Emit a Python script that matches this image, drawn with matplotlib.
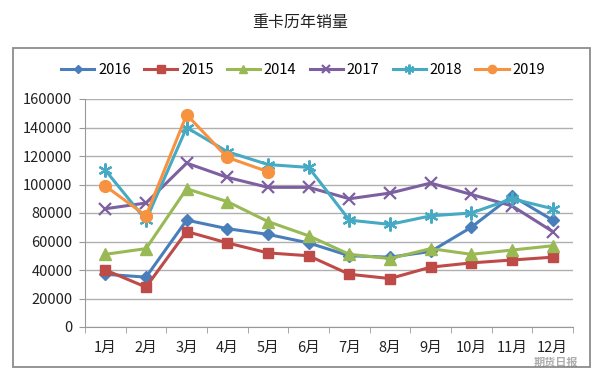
import matplotlib
matplotlib.use("Agg")
import matplotlib.pyplot as plt
from matplotlib.patches import Rectangle

plt.rcParams['font.family'] = ['Noto Sans CJK SC', 'DejaVu Sans']

months = ['1月', '2月', '3月', '4月', '5月', '6月', '7月', '8月', '9月', '10月', '11月', '12月']
s2016 = [37000, 35000, 75000, 69000, 65000, 59000, 50000, 49000, 53000, 70000, 92000, 75000]
s2015 = [40000, 28000, 67000, 59000, 52000, 50000, 37000, 34000, 42000, 45000, 47000, 49000]
s2014 = [51000, 55000, 97000, 88000, 74000, 64000, 51000, 48000, 55000, 51000, 54000, 57000]
s2017 = [83000, 87000, 115000, 105000, 98000, 98000, 90000, 94000, 101000, 93000, 85000, 67000]
s2018 = [110000, 75000, 140000, 123000, 114000, 112000, 75000, 72000, 78000, 80000, 90000, 83000]
s2019 = [99000, 78000, 149000, 119000, 109000]
yticks = [0, 20000, 40000, 60000, 80000, 100000, 120000, 140000, 160000]

series = [
    ('2016', s2016, '#4A7EBB', 'D', 6.5),
    ('2015', s2015, '#BE4B48', 's', 7.5),
    ('2014', s2014, '#98B954', '^', 8.5),
    ('2017', s2017, '#7D60A0', 'x', 8.5),
    ('2018', s2018, '#46AAC5', (6, 2, 0), 10),
    ('2019', s2019, '#F69240', 'o', 8.5),
]

fig = plt.figure(figsize=(6, 3.75), dpi=100)
fig.patch.set_facecolor('white')
fig.add_artist(Rectangle((13/600, 1-367/375), 577/600, 319/375, transform=fig.transFigure,
                         fill=False, edgecolor='#8C8C8C', linewidth=1.3))
ax = fig.add_axes([85/600, 0.128, 488/600, 0.608])

x = list(range(len(months)))
for name, vals, col, mk, ms in series:
    ax.plot(x[:len(vals)], vals, color=col, marker=mk, markersize=ms, linewidth=2.2,
            markeredgecolor=col, markeredgewidth=1.6 if mk in ('x', (6, 2, 0)) else 1,
            label=name)

ax.set_xlim(-0.5, len(months) - 0.5)
ax.set_ylim(0, 160000)
ax.set_yticks(yticks)
ax.set_yticklabels([str(v) for v in yticks])
ax.set_xticks(x)
ax.set_xticklabels(months)
ax.set_xticks([i + 0.5 for i in range(-1, len(months))], minor=True)
ax.tick_params(axis='x', which='major', length=0, pad=10, labelsize=10.5, colors='#222222')
ax.tick_params(axis='x', which='minor', length=4, color='#999999')
ax.tick_params(axis='y', length=4, labelsize=10.5, labelcolor='#222222', pad=5, color='#999999')
ax.yaxis.grid(True, color='#B0B0B0', linewidth=1)
ax.set_axisbelow(True)
for sp in ['top', 'right']:
    ax.spines[sp].set_visible(False)
ax.spines['left'].set_color('#999999')
ax.spines['bottom'].set_color('#999999')

fig.text(0.5, 1 - 22/375, '重卡历年销量', ha='center', va='center', fontsize=11.5, color='#222222')
handles, labels = ax.get_legend_handles_labels()
fig.legend(handles, labels, loc='center', bbox_to_anchor=(0.505, 1 - 70/375), ncol=6,
           frameon=False, fontsize=10.5, handlelength=2.3, columnspacing=0.9, handletextpad=0.25,
           markerscale=0.7)

fig.text(556/600, 1 - 362.5/375, '期货日报', ha='center', va='center', fontsize=8,
         color='#777777', alpha=0.6, fontweight='bold')

fig.savefig('out.png', dpi=100)
